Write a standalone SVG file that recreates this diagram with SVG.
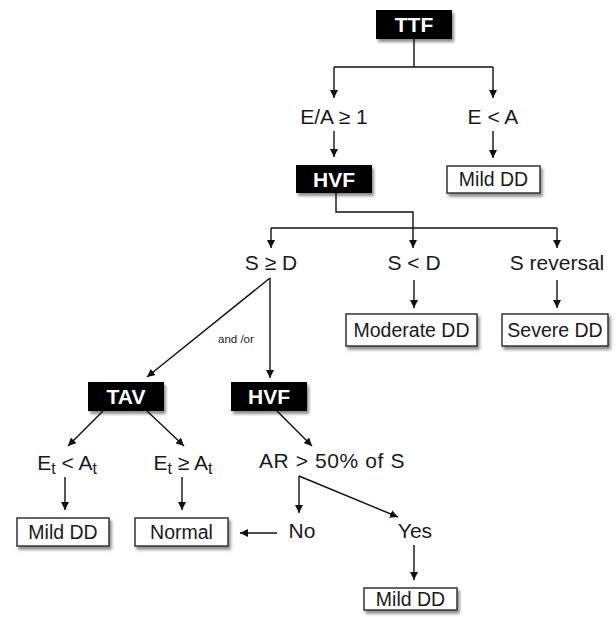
<svg xmlns="http://www.w3.org/2000/svg" width="616" height="617" viewBox="0 0 616 617">
<defs>
<marker id="ah" viewBox="0 0 10 10" refX="10" refY="5" markerWidth="8" markerHeight="8" markerUnits="userSpaceOnUse" orient="auto">
<path d="M0,0 L10,5 L0,10 Z" fill="#111"/>
</marker>
<filter id="sh" x="-20%" y="-20%" width="150%" height="170%">
<feDropShadow dx="2" dy="3" stdDeviation="1.8" flood-color="#000" flood-opacity="0.45"/>
</filter>
<style>
.dark rect{fill:#000;filter:url(#sh)}
.dark text{fill:#fff;font-family:"Liberation Sans",Arial,sans-serif;font-weight:bold;font-size:21px;text-anchor:middle}
.box rect{fill:#fff;stroke:#333;stroke-width:1.5;filter:url(#sh)}
.box text{fill:#1a1a1a;font-family:"Liberation Sans",Arial,sans-serif;font-size:19.5px;text-anchor:middle}
.lbl text{fill:#1a1a1a;font-family:"Liberation Sans",Arial,sans-serif;font-size:21px;text-anchor:middle}
.sub{font-size:16px}
.c path{fill:none;stroke:#111;stroke-width:1.4}
.c .a{marker-end:url(#ah)}
.small{fill:#222;font-family:"Liberation Sans",Arial,sans-serif;font-size:11.5px}
</style>
</defs>
<rect width="616" height="617" fill="#fff"/>

<g class="c" id="connectors">
<path d="M414,39 V67 M334,67 H493"/>
<path class="a" d="M334,67 V98"/>
<path class="a" d="M493,67 V98"/>
<path class="a" d="M334,131 V157"/>
<path class="a" d="M493,131 V158"/>
<path class="a" d="M336,193 V212 H413 V248"/>
<path d="M271,228 H557"/>
<path class="a" d="M271,228 V248"/>
<path class="a" d="M557,228 V248"/>
<path class="a" d="M414,280 V308"/>
<path class="a" d="M557,280 V308"/>
<path class="a" d="M270,278 V378"/>
<path class="a" d="M270,278 L147,377"/>
<path class="a" d="M103,411 L68,446"/>
<path class="a" d="M147,411 L184,446"/>
<path class="a" d="M65,477 V510"/>
<path class="a" d="M182,477 V510"/>
<path class="a" d="M277,411 L312,446"/>
<path class="a" d="M299,476 V513"/>
<path class="a" d="M299,476 L398,517"/>
<path class="a" d="M277,533 H240"/>
<path class="a" d="M414,545 V580"/>
</g>
<text class="small" x="218" y="343">and /or</text>

<g id="ttf" class="dark"><rect x="376" y="10" width="76" height="29"/><text x="414" y="32">TTF</text></g>
<g id="ea_ge1" class="lbl"><text x="334" y="124">E/A ≥ 1</text></g>
<g id="e_lt_a" class="lbl"><text x="493" y="124">E &lt; A</text></g>
<g id="hvf1" class="dark"><rect x="296" y="165" width="76" height="28"/><text x="334" y="187">HVF</text></g>
<g id="mild1" class="box"><rect x="447" y="166" width="93" height="27"/><text x="493.5" y="186">Mild DD</text></g>

<g id="s_ge_d" class="lbl"><text x="271" y="270">S ≥ D</text></g>
<g id="s_lt_d" class="lbl"><text x="414" y="270">S &lt; D</text></g>
<g id="s_rev" class="lbl"><text x="557" y="270">S reversal</text></g>
<g id="moderate" class="box"><rect x="346" y="314" width="131" height="32"/><text x="411.5" y="337">Moderate DD</text></g>
<g id="severe" class="box"><rect x="502" y="314" width="106" height="32"/><text x="555" y="337">Severe DD</text></g>

<g id="tav" class="dark"><rect x="88" y="382" width="76" height="29"/><text x="126" y="404">TAV</text></g>
<g id="hvf2" class="dark"><rect x="231" y="382" width="76" height="29"/><text x="269" y="404">HVF</text></g>

<g id="et_lt_at" class="lbl"><text x="67" y="470">E<tspan class="sub" dy="4">t</tspan><tspan dy="-4"> &lt; A</tspan><tspan class="sub" dy="4">t</tspan></text></g>
<g id="et_ge_at" class="lbl"><text x="183" y="470">E<tspan class="sub" dy="4">t</tspan><tspan dy="-4"> ≥ A</tspan><tspan class="sub" dy="4">t</tspan></text></g>
<g id="ar" class="lbl"><text x="332" y="468" letter-spacing="0.6">AR &gt; 50% of S</text></g>

<g id="mild2" class="box"><rect x="17" y="518" width="92" height="28"/><text x="63" y="539">Mild DD</text></g>
<g id="normal" class="box"><rect x="135" y="518" width="93" height="28"/><text x="181.5" y="539">Normal</text></g>
<g id="no" class="lbl"><text x="302" y="538">No</text></g>
<g id="yes" class="lbl"><text x="415" y="538">Yes</text></g>
<g id="mild3" class="box"><rect x="364" y="588" width="93" height="22"/><text x="410.5" y="606">Mild DD</text></g>
</svg>
